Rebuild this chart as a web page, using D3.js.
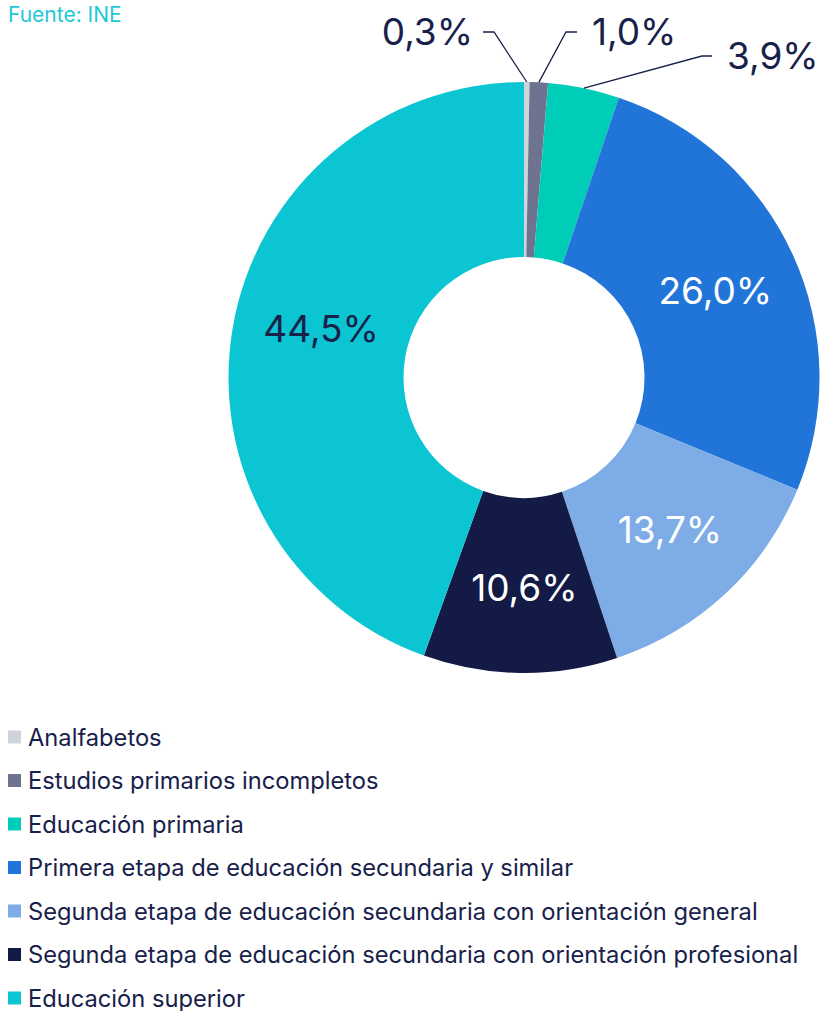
<!DOCTYPE html>
<html>
<head>
<meta charset="utf-8">
<script src="https://cdn.jsdelivr.net/npm/d3@7"></script>
<style>
  body { margin: 0; background: #fff; }
  svg { display: block; font-family: Inter, 'Noto Sans', sans-serif; }
</style>
</head>
<body>
<svg id="chart" width="820" height="1011"></svg>
<script>
// data
const categories = [
  'Analfabetos',
  'Estudios primarios incompletos',
  'Educación primaria',
  'Primera etapa de educación secundaria y similar',
  'Segunda etapa de educación secundaria con orientación general',
  'Segunda etapa de educación secundaria con orientación profesional',
  'Educación superior',
];
const values = [0.3, 1.0, 3.9, 26.0, 13.7, 10.6, 44.5];
const colors = ['#cfd3dc', '#6e7490', '#00cdb8', '#2275d8', '#7eace6', '#121a45', '#0bc5d3'];
const labelColors = ['#18214a', '#18214a', '#18214a', '#fff', '#fff', '#fff', '#18214a'];
// small slices get an outside label with a leader line
const outside = [true, true, true, false, false, false, false];

const fmt = v => v.toFixed(1).replace('.', ',') + '%';

const cx = 524, cy = 377.5;
const outerR = 295.5, innerR = 120.5;

const svg = d3.select('#chart');

svg.append('text')
    .attr('x', 8)
    .attr('y', 22)
    .attr('font-size', 21)
    .attr('fill', '#1fc8d4')
    .text('Fuente: INE');

const pie = d3.pie().sort(null).value(d => d.value);
const arc = d3.arc().innerRadius(innerR).outerRadius(outerR);

const slices = pie(values.map((value, i) => ({ value, i })));

const g = svg.append('g').attr('transform', `translate(${cx},${cy})`);

g.selectAll('path')
  .data(slices)
  .join('path')
    .attr('d', arc)
    .attr('fill', d => colors[d.data.i]);

// small nudges so the inside labels sit like the original
const nudge = { 3: [2, -1], 4: [4, 0], 5: [3, 2], 6: [2, -13] };

g.selectAll('text.inside')
  .data(slices.filter(d => !outside[d.data.i]))
  .join('text')
    .attr('class', 'inside')
    .attr('transform', d => {
      const [x, y] = arc.centroid(d);
      const [nx, ny] = nudge[d.data.i] || [0, 0];
      return `translate(${x + nx},${y + ny})`;
    })
    .attr('text-anchor', 'middle')
    .attr('dy', '0.36em')
    .attr('font-size', 37)
    .attr('fill', d => labelColors[d.data.i])
    .text(d => fmt(d.data.value));

// outside labels: elbow and end of leader, relative to the chart centre
const leaders = [
  { elbow: [-30, -345.5], end: [-41, -345.5], anchor: 'end' },
  { elbow: [42, -345.5], end: [53, -345.5], anchor: 'start' },
  { elbow: [178, -321.5], end: [188, -321.5], anchor: 'start' },
];

const edge = d3.arc().innerRadius(outerR).outerRadius(outerR);
slices.filter(d => outside[d.data.i]).forEach((d, k) => {
  const l = leaders[k];
  const p0 = edge.centroid(d);
  g.append('polyline')
      .attr('points', [p0, l.elbow, l.end].map(p => p.join(',')).join(' '))
      .attr('fill', 'none')
      .attr('stroke', '#18214a')
      .attr('stroke-width', 1.3);
  g.append('text')
      .attr('x', l.end[0] + (l.anchor === 'end' ? -10 : 15))
      .attr('y', l.end[1])
      .attr('dy', '0.36em')
      .attr('text-anchor', l.anchor)
      .attr('font-size', 37)
      .attr('fill', labelColors[d.data.i])
      .text(fmt(d.data.value));
});

// legend
const legend = svg.append('g')
    .selectAll('g')
    .data(categories)
    .join('g')
    .attr('transform', (d, i) => `translate(8,${737 + i * 43.5})`);

legend.append('rect')
    .attr('y', -6.5)
    .attr('width', 13)
    .attr('height', 13)
    .attr('fill', (d, i) => colors[i]);

legend.append('text')
    .attr('x', 20)
    .attr('dy', '0.36em')
    .attr('font-size', 23.7)
    .attr('fill', '#18214a')
    .text(d => d);
</script>
</body>
</html>
